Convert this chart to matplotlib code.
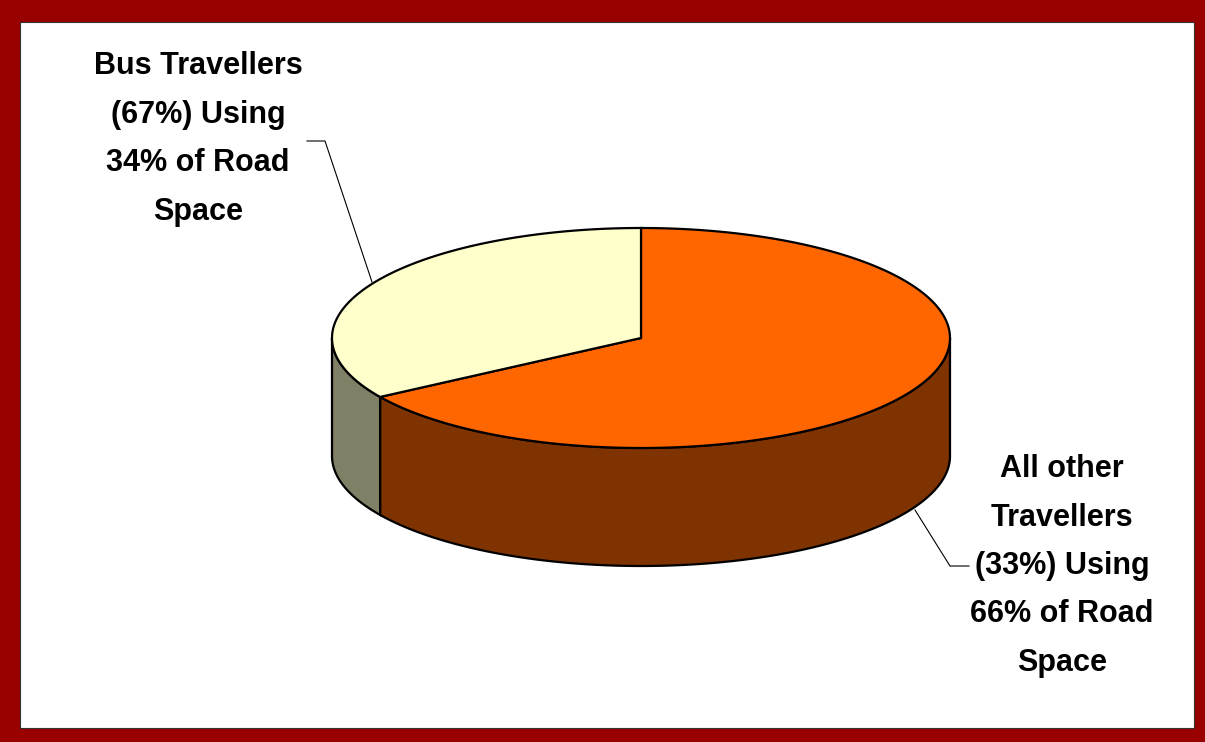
import numpy as np
import matplotlib.pyplot as plt
from matplotlib.patches import Polygon, Rectangle

# --------------------------------------------------------------------------
# DATA
# --------------------------------------------------------------------------
labels = ["All other\nTravellers\n(33%) Using\n66% of Road\nSpace",
          "Bus Travellers\n(67%) Using\n34% of Road\nSpace"]
shares = [66, 34]
top_colors = ["#FF6600", "#FFFFCC"]
side_colors = ["#7F3300", "#808066"]

# --------------------------------------------------------------------------
# FIGURE: dark red frame around a white panel, axes in pixel units
# --------------------------------------------------------------------------
fig = plt.figure(figsize=(12.05, 7.42), dpi=100, facecolor="#990000")
ax = fig.add_axes([0, 0, 1, 1])
ax.set_xlim(0, 1205)
ax.set_ylim(742, 0)
ax.axis("off")
ax.add_patch(Rectangle((20, 22), 1174, 706, facecolor="white",
                       edgecolor="#333333", lw=0.8, zorder=0))

# pie geometry (screen pixels)
cx, cy = 641, 338      # centre of the top ellipse
a, b = 309, 110        # semi axes
depth = 118            # height of the cylinder


def rim(t0, t1, n=200):
    # angles clockwise from 12 o'clock, in degrees
    t = np.radians(np.linspace(t0, t1, n))
    return cx + a * np.sin(t), cy - b * np.cos(t)


bounds = np.concatenate([[0], np.cumsum(shares) / np.sum(shares) * 360])

# --------------------------------------------------------------------------
# SIDE WALLS (only the front half, 90..270 degrees, is visible)
# --------------------------------------------------------------------------
for i in range(len(shares)):
    t0 = max(bounds[i], 90)
    t1 = min(bounds[i + 1], 270)
    if t1 <= t0:
        continue
    x, y = rim(t0, t1)
    pts = np.column_stack([np.r_[x, x[::-1]], np.r_[y, y[::-1] + depth]])
    ax.add_patch(Polygon(pts, closed=True, facecolor=side_colors[i],
                         edgecolor="black", lw=1.6, zorder=2))

# --------------------------------------------------------------------------
# TOP FACE
# --------------------------------------------------------------------------
for i in range(len(shares)):
    x, y = rim(bounds[i], bounds[i + 1])
    pts = np.column_stack([np.r_[cx, x], np.r_[cy, y]])
    ax.add_patch(Polygon(pts, closed=True, facecolor=top_colors[i],
                         edgecolor="black", lw=1.6, zorder=3))

# --------------------------------------------------------------------------
# LABELS AND LEADER LINES
# --------------------------------------------------------------------------
font = dict(family=["Liberation Sans Narrow", "Liberation Sans", "DejaVu Sans"],
            fontsize=22, fontweight="bold", ha="center", va="center",
            linespacing=1.8)
ax.text(1062, 566, labels[0], **font)
ax.text(198, 139, labels[1], **font)

ax.plot([915, 950, 969], [510, 566, 566], color="black", lw=0.8, zorder=4)
ax.plot([307, 325, 372], [141, 141, 282], color="black", lw=0.8, zorder=4)

fig.savefig("out.png", dpi=100, facecolor=fig.get_facecolor())
